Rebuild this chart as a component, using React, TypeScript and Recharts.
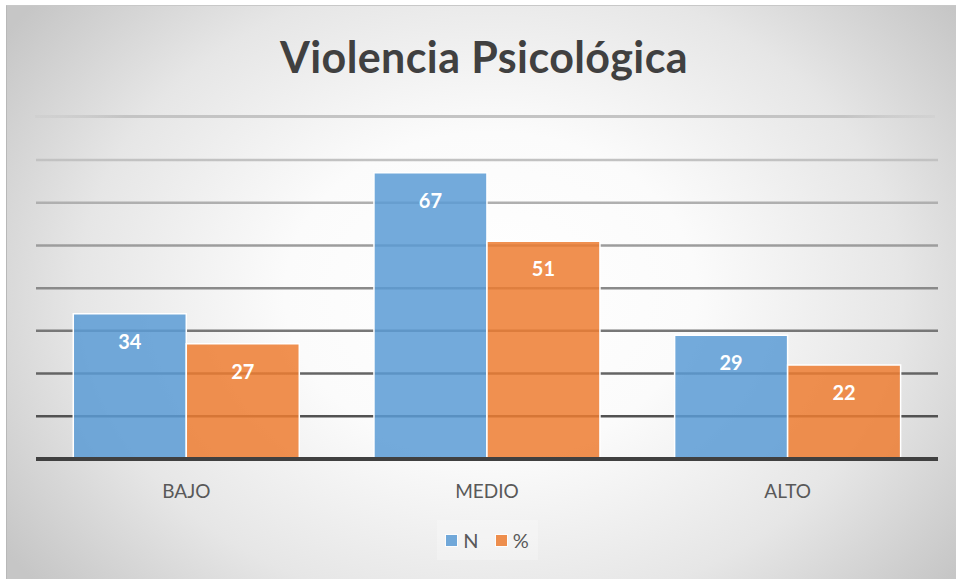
import React from 'react';
import { BarChart, Bar, XAxis, YAxis, CartesianGrid, LabelList, Legend } from 'recharts';

const categories = ['BAJO', 'MEDIO', 'ALTO'];
const nValues = [34, 67, 29];
const pctValues = [27, 51, 22];
const yTicks = [0, 10, 20, 30, 40, 50, 60, 70];
const seriesNames = ['N', '%'];
const seriesColors = ['#5B9BD5', '#ED7D31'];
const title = 'Violencia Psicológica';

const data = categories.map((c, i) => ({ category: c, n: nValues[i], pct: pctValues[i] }));

const FONT = 'Lato, "Open Sans", sans-serif';

const renderLegend = (props: any) => {
  const payload = [...(props.payload || [])].sort(
    (a: any, b: any) => seriesNames.indexOf(a.value) - seriesNames.indexOf(b.value)
  );
  return (
    <div style={{ display: 'flex', justifyContent: 'center' }}>
      <div
        style={{
          width: 101,
          height: 40,
          display: 'flex',
          justifyContent: 'center',
          alignItems: 'center',
          background: 'rgba(255,255,255,0.25)',
          fontFamily: FONT,
          fontSize: 20,
          color: '#595959',
        }}
      >
        {payload.map((e: any, i: number) => (
          <div key={i} style={{ display: 'flex', alignItems: 'center', marginLeft: i ? 16 : 0 }}>
            <span
              style={{
                display: 'inline-block',
                width: 11,
                height: 11,
                background: e.color,
                opacity: 0.85,
                border: '1px solid #fff',
                marginRight: 5,
              }}
            />
            <span>{e.value}</span>
          </div>
        ))}
      </div>
    </div>
  );
};

export default function App() {
  return (
    <div style={{ position: 'absolute', left: 0, top: 0, width: 956, height: 579, background: '#fff', overflow: 'hidden' }}>
      <div
        style={{
          position: 'absolute',
          left: 6,
          top: 5,
          width: 950,
          height: 574,
          boxSizing: 'border-box',
          borderLeft: '1px solid #b8b8b8',
          borderTop: '1px solid #c8c8c8',
          background: 'radial-gradient(ellipse 62% 80% at 51% 50%, #ffffff 0%, #fbfbfb 35%, #e6e6e6 70%, #c6c6c6 100%)',
        }}
      />
      <div
        style={{
          position: 'absolute',
          left: 35,
          top: 115,
          width: 900,
          height: 3,
          background: 'linear-gradient(to right, rgba(190,190,190,0.2), #c4c4c4 10%, #c4c4c4 90%, rgba(190,190,190,0.2))',
        }}
      />
      <div
        style={{
          position: 'absolute',
          left: 0,
          top: 31,
          width: 968,
          textAlign: 'center',
          fontFamily: FONT,
          fontWeight: 700,
          fontSize: 43,
          letterSpacing: 0.4,
          color: '#404040',
        }}
      >
        {title}
      </div>
      <div style={{ position: 'absolute', left: 0, top: 0 }}>
        <BarChart
          width={956}
          height={579}
          data={data}
          margin={{ top: 160, right: 18, left: 36, bottom: 50 }}
          barCategoryGap="12.4%"
          barGap={0}
        >
          <defs>
            <linearGradient id="gridGrad" gradientUnits="userSpaceOnUse" x1="0" y1="160" x2="0" y2="459">
              <stop offset="0%" stopColor="#c2c2c2" />
              <stop offset="100%" stopColor="#3f3f3f" />
            </linearGradient>
          </defs>
          <CartesianGrid vertical={false} stroke="url(#gridGrad)" strokeWidth={2.5} />
          <XAxis
            dataKey="category"
            height={30}
            axisLine={{ stroke: '#404040', strokeWidth: 4 }}
            tickLine={false}
            tickMargin={20}
            tick={{ fill: '#595959', fontFamily: FONT, fontSize: 19 }}
          />
          <YAxis hide domain={[0, 70]} ticks={yTicks} />
          <Legend
            content={renderLegend}
            wrapperStyle={{ top: 520, left: 36, width: 902 }}
          />
          <Bar dataKey="n" name={seriesNames[0]} fill={seriesColors[0]} fillOpacity={0.85} stroke="#fff" strokeWidth={1.5} isAnimationActive={false}>
            <LabelList dataKey="n" position="insideTop" offset={21} fill="#fff" style={{ fontFamily: FONT, fontWeight: 700, fontSize: 20 }} />
          </Bar>
          <Bar dataKey="pct" name={seriesNames[1]} fill={seriesColors[1]} fillOpacity={0.85} stroke="#fff" strokeWidth={1.5} isAnimationActive={false}>
            <LabelList dataKey="pct" position="insideTop" offset={21} fill="#fff" style={{ fontFamily: FONT, fontWeight: 700, fontSize: 20 }} />
          </Bar>
        </BarChart>
      </div>
    </div>
  );
}
